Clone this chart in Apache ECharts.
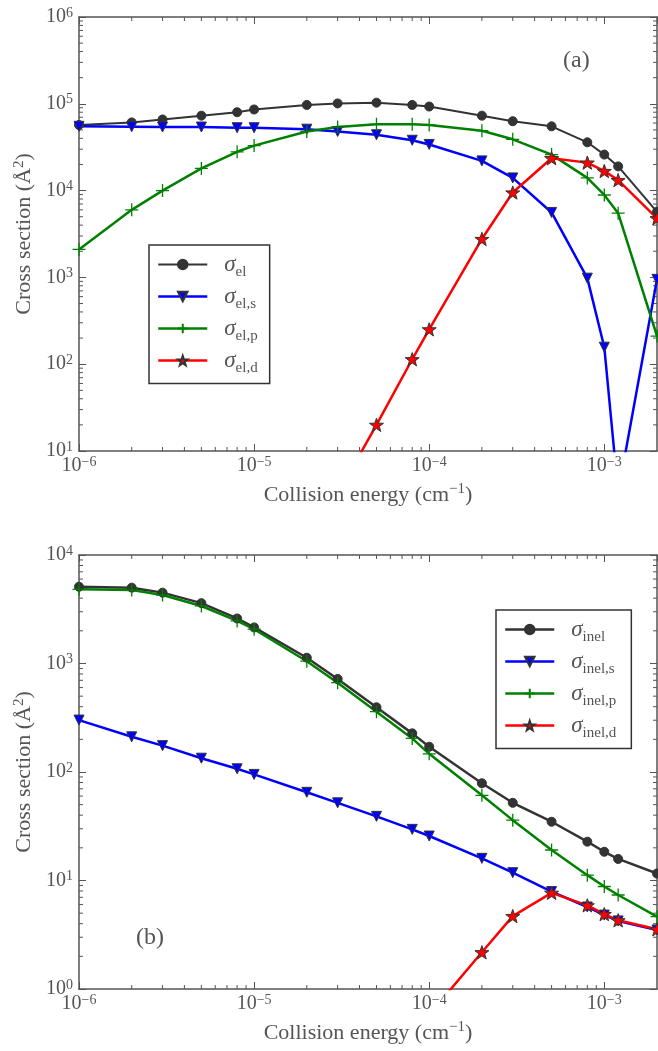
<!DOCTYPE html>
<html><head><meta charset="utf-8">
<script src="https://cdn.jsdelivr.net/npm/echarts@6/dist/echarts.min.js"></script>
<style>html,body{margin:0;padding:0;background:#fff}#c{width:658px;height:1051px}</style>
</head><body><div id="c"></div>
<script>
// ---- data ----
const energies = [1e-6,2e-6,3e-6,5e-6,8e-6,1e-5,2e-5,3e-5,5e-5,8e-5,1e-4,2e-4,3e-4,5e-4,8e-4,1e-3,1.2e-3,2e-3];
// panel (a): elastic
const sigEl  = [5.7e4,6.1e4,6.6e4,7.3e4,8.0e4,8.6e4,9.7e4,1.01e5,1.03e5,9.7e4,9.3e4,7.3e4,6.3e4,5.5e4,3.6e4,2.6e4,1.9e4,5.7e3];
const sigElS = [5.5e4,5.45e4,5.4e4,5.4e4,5.3e4,5.3e4,5.1e4,4.8e4,4.4e4,3.8e4,3.4e4,2.2e4,1.4e4,5.6e3,9.8e2,157,3.3,950];
const sigElP = [2.1e3,6.0e3,1.0e4,1.8e4,2.8e4,3.3e4,4.8e4,5.4e4,5.8e4,5.8e4,5.7e4,4.9e4,3.9e4,2.6e4,1.4e4,8.9e3,5.5e3,211];
const sigElD = [null,null,null,null,null,null,null,3.2,20,114,252,2.77e3,9.5e3,2.36e4,2.1e4,1.68e4,1.32e4,4.8e3];
// panel (b): inelastic
const sigIn  = [5.1e3,5.0e3,4.5e3,3.6e3,2.6e3,2.15e3,1.13e3,720,395,227,171,78.7,52,34.8,22.8,18.4,15.8,11.6];
const sigInS = [301,211,175,134,107,95,65,52,39,29.6,25.7,16.0,11.8,7.9,5.7,4.8,4.24,3.5];
const sigInP = [4.83e3,4.75e3,4.28e3,3.39e3,2.47e3,2.07e3,1.05e3,665,360,204,147,61,36,19.1,11.2,8.8,7.35,4.65];
const sigInD = [null,null,null,null,null,null,null,null,null,null,0.58,2.18,4.7,7.7,5.9,4.9,4.3,3.55];
const namesA = ['el','el,s','el,p','el,d'];
const namesB = ['inel','inel,s','inel,p','inel,d'];
const xRange = [1e-6, 2e-3];
const yRangeA = [10, 1e6];
const yRangeB = [1, 1e4];

// ---- style ----
const FONT = '"Liberation Serif","DejaVu Serif",serif';
const TXT = '#555';
const AX = '#555';
const STAR = 'path://M0,-10 L2.35,-3.24 L9.51,-3.09 L3.8,1.24 L5.88,8.09 L0,4 L-5.88,8.09 L-3.8,1.24 L-9.51,-3.09 L-2.35,-3.24 Z';
const PLUS = 'path://M0,-10 L0,10 M-10,0 L10,0';

function expLabel(v){
  const e = Math.log10(v), r = Math.round(e);
  if (Math.abs(e - r) > 1e-6) return '';
  return '{b|10}{e|' + (r < 0 ? '\u2212' + (-r) : r) + '}';
}
const labelRich = {
  b:{fontSize:20,fontFamily:FONT,color:TXT,lineHeight:22,verticalAlign:'middle'},
  e:{fontSize:14,fontFamily:FONT,color:TXT,lineHeight:14,verticalAlign:'top'}
};
const nameRich = {
  t:{fontSize:22,fontFamily:FONT,color:TXT,lineHeight:26,verticalAlign:'middle'},
  e:{fontSize:15,fontFamily:FONT,color:TXT,lineHeight:16,verticalAlign:'top'}
};
const legRich = {
  sp:{width:12,fontSize:10},
  s:{fontSize:23,fontFamily:FONT,fontStyle:'italic',color:TXT,lineHeight:30,verticalAlign:'middle'},
  sub:{fontSize:15,fontFamily:FONT,color:TXT,lineHeight:18,verticalAlign:'bottom'}
};

function minorTicks(lo, hi){
  const out = [];
  for (let e = Math.floor(Math.log10(lo)); e <= Math.ceil(Math.log10(hi)); e++)
    for (let m = 2; m <= 9; m++){ const v = m*Math.pow(10,e); if (v > lo*1.0001 && v < hi*0.9999) out.push(v); }
  return out;
}

const xAxes = [], yAxes = [], series = [];
function buildPanel(gi, yr){
  const common = {type:'log', gridIndex:gi, splitLine:{show:false},
    axisLine:{show:true,onZero:false,lineStyle:{color:AX,width:1.5}},
    axisTick:{show:true,inside:true,length:7,lineStyle:{color:AX,width:1}}};
  xAxes.push(Object.assign({}, common, {min:xRange[0], max:xRange[1], position:'bottom',
    axisLabel:{formatter:expLabel, rich:labelRich, margin:4, showMaxLabel:false},
    name:'{t|Collision energy (cm}{e|\u22121}{t|)}', nameLocation:'middle', nameGap:31,
    nameTextStyle:{rich:nameRich}}));
  xAxes.push(Object.assign({}, common, {min:xRange[0], max:xRange[1], position:'top', axisLabel:{show:false}}));
  yAxes.push(Object.assign({}, common, {min:yr[0], max:yr[1], position:'left',
    axisLabel:{formatter:expLabel, rich:labelRich, margin:6},
    name:'{t|Cross section (\u00C5}{e|2}{t|)}', nameLocation:'middle', nameGap:41,
    nameTextStyle:{rich:nameRich}}));
  yAxes.push(Object.assign({}, common, {min:yr[0], max:yr[1], position:'right', axisLabel:{show:false}}));
  const xi = 2*gi, yi = 2*gi;
  const xm = minorTicks(xRange[0], xRange[1]);
  const ym = minorTicks(yr[0], yr[1]);
  series.push({type:'custom', xAxisIndex:xi, yAxisIndex:yi, silent:true, clip:false, z:1,
    data: xm.map(v => [v, yr[0]]),
    renderItem:(p, api) => {
      const v = api.value(0), b = api.coord([v, yr[0]]), t = api.coord([v, yr[1]]);
      return {type:'group', children:[
        {type:'line', shape:{x1:b[0],y1:b[1],x2:b[0],y2:b[1]-4}, style:{stroke:AX,lineWidth:1}},
        {type:'line', shape:{x1:t[0],y1:t[1],x2:t[0],y2:t[1]+4}, style:{stroke:AX,lineWidth:1}}]};
    }});
  series.push({type:'custom', xAxisIndex:xi, yAxisIndex:yi, silent:true, clip:false, z:1,
    data: ym.map(v => [xRange[0], v]),
    renderItem:(p, api) => {
      const v = api.value(1), l = api.coord([xRange[0], v]), r = api.coord([xRange[1], v]);
      return {type:'group', children:[
        {type:'line', shape:{x1:l[0],y1:l[1],x2:l[0]+4,y2:l[1]}, style:{stroke:AX,lineWidth:1}},
        {type:'line', shape:{x1:r[0],y1:r[1],x2:r[0]-4,y2:r[1]}, style:{stroke:AX,lineWidth:1}}]};
    }});
}
function lineSeries(gi, name, vals, kind, blackW){
  const d = energies.map((x,i) => [x, vals[i]]);
  const s = {type:'line', name, xAxisIndex:2*gi, yAxisIndex:2*gi, data:d, clip:true, z:3,
    connectNulls:false, animation:false};
  if (kind === 'k') Object.assign(s, {symbol:'circle', symbolSize:9,
    lineStyle:{color:'#333',width:blackW}, itemStyle:{color:'#333',borderColor:'#333',borderWidth:1}});
  if (kind === 'b') Object.assign(s, {symbol:'triangle', symbolRotate:180, symbolSize:10,
    lineStyle:{color:'#0000ff',width:2.5}, itemStyle:{color:'#0000ff',borderColor:'#333',borderWidth:1}});
  if (kind === 'g') Object.assign(s, {symbol:PLUS, symbolSize:13,
    lineStyle:{color:'#008000',width:2.5}, itemStyle:{color:'#008000',borderColor:'#008000',borderWidth:1.3}});
  if (kind === 'r') Object.assign(s, {symbol:STAR, symbolSize:14, symbolKeepAspect:true,
    lineStyle:{color:'#ff0000',width:2.5}, itemStyle:{color:'#ff0000',borderColor:'#333',borderWidth:1}});
  series.push(s);
}
buildPanel(0, yRangeA);
buildPanel(1, yRangeB);
lineSeries(0, namesA[0], sigEl, 'k', 2);
lineSeries(0, namesA[1], sigElS, 'b');
lineSeries(0, namesA[2], sigElP, 'g');
lineSeries(0, namesA[3], sigElD, 'r');
lineSeries(1, namesB[0], sigIn, 'k', 2.5);
lineSeries(1, namesB[1], sigInS, 'b');
lineSeries(1, namesB[2], sigInP, 'g');
lineSeries(1, namesB[3], sigInD, 'r');

function legendFor(names, left, top, padR){
  return {data:names, orient:'vertical', left, top, padding:[8,padR,8,8], itemGap:5.5,
    itemWidth:49, itemHeight:12, borderColor:'#333', borderWidth:1.5, backgroundColor:'#fff',
    selectedMode:false, lineStyle:{width:'inherit'},
    formatter:n => '{sp| }{s|\u03C3}{sub|' + n + '}',
    textStyle:{rich:legRich}};
}

const chart = echarts.init(document.getElementById('c'), null, {renderer:'canvas'});
chart.setOption({
  animation:false,
  backgroundColor:'#fff',
  grid:[{left:79, top:17, width:578, height:434}, {left:79, top:555, width:578, height:434}],
  xAxis:xAxes, yAxis:yAxes, series,
  legend:[legendFor(namesA, 149, 245, 12), legendFor(namesB, 496, 610, 15)],
  graphic:[
    {type:'text', left:563, top:49, style:{text:'(a)', font:'24px ' + FONT, fill:TXT}},
    {type:'text', left:136, top:926, style:{text:'(b)', font:'24px ' + FONT, fill:TXT}}
  ]
});
</script></body></html>
